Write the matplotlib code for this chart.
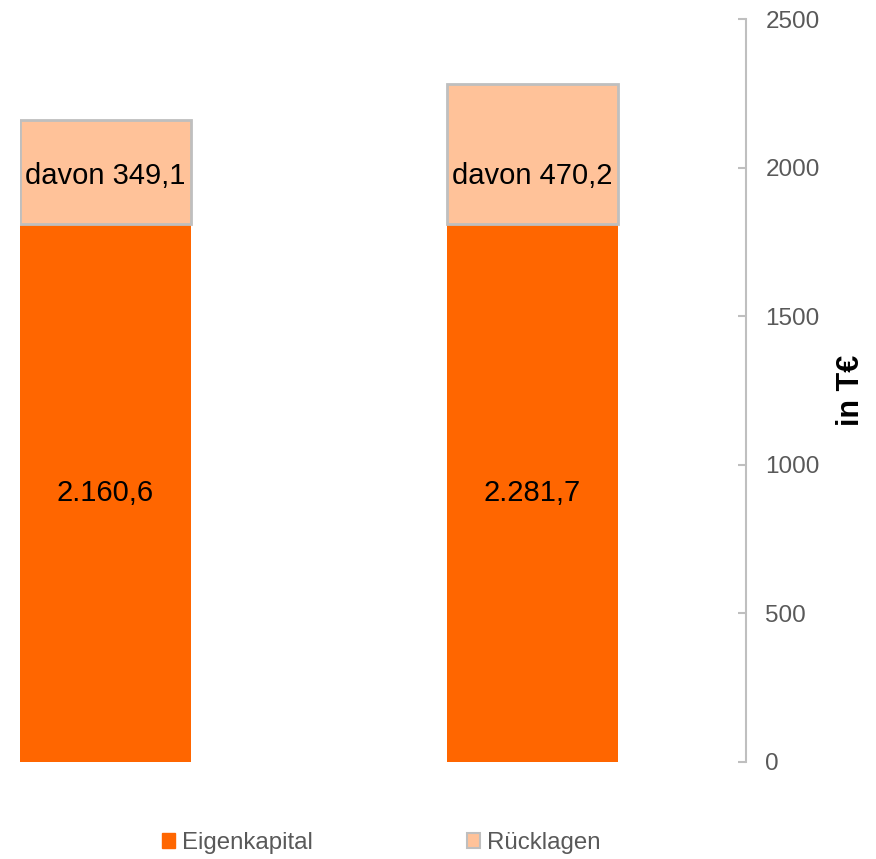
import matplotlib.pyplot as plt
from matplotlib.patches import Patch

plt.rcParams["font.family"] = ["Liberation Sans", "DejaVu Sans"]

# Eigenkapital je Jahr (gesamt) und davon Rücklagen, in T€
gesamt = [2160.6, 2281.7]
ruecklagen = [349.1, 470.2]
gesamt_labels = ["2.160,6", "2.281,7"]
ruecklagen_labels = ["davon 349,1", "davon 470,2"]
yticks = [0, 500, 1000, 1500, 2000, 2500]

orange = "#FF6600"
hell = "#FFC299"
grau = "#BFBFBF"
text_grau = "#595959"

basis = [g - r for g, r in zip(gesamt, ruecklagen)]
x = [0, 1]

fig = plt.figure(figsize=(8.76, 8.59), dpi=100)
ax = fig.add_axes([20 / 876, 97 / 859, 726 / 876, 742.7 / 859])

ax.bar(x, basis, width=0.4, color=orange, linewidth=0)
ax.bar(x, ruecklagen, bottom=basis, width=0.4, color=hell,
       edgecolor=grau, linewidth=2)

for xi, b, lab in zip(x, basis, gesamt_labels):
    ax.text(xi, b / 2, lab, ha="center", va="center", fontsize=21, color="black")
for xi, b, lab in zip(x, basis, ruecklagen_labels):
    ax.text(xi, b + 160, lab, ha="center", va="center", fontsize=21, color="black")

ax.set_xlim(-0.2, 1.5)
ax.set_ylim(0, 2500)
ax.set_xticks([])
ax.set_yticks(yticks)
ax.yaxis.tick_right()
ax.yaxis.set_label_position("right")
ax.tick_params(axis="y", direction="in", length=6, width=1.5, color=grau,
               labelcolor=text_grau, labelsize=17.5, pad=14)

for s in ["top", "bottom", "left"]:
    ax.spines[s].set_visible(False)
ax.spines["right"].set_color(grau)
ax.spines["right"].set_linewidth(1.5)

ax.set_ylabel("in T€", fontsize=22, fontweight="bold", labelpad=12)

handles = [Patch(facecolor=orange, edgecolor=orange),
           Patch(facecolor=hell, edgecolor=grau, linewidth=1.5)]
fig.legend(handles, ["Eigenkapital", "Rücklagen"], loc="center",
           bbox_to_anchor=(381 / 876, 1 - 843 / 859), ncol=2, frameon=False,
           fontsize=17.3, labelcolor=text_grau, handlelength=0.55,
           handleheight=0.55, handletextpad=0.3, columnspacing=6.4)

fig.savefig("out.png", dpi=100)
